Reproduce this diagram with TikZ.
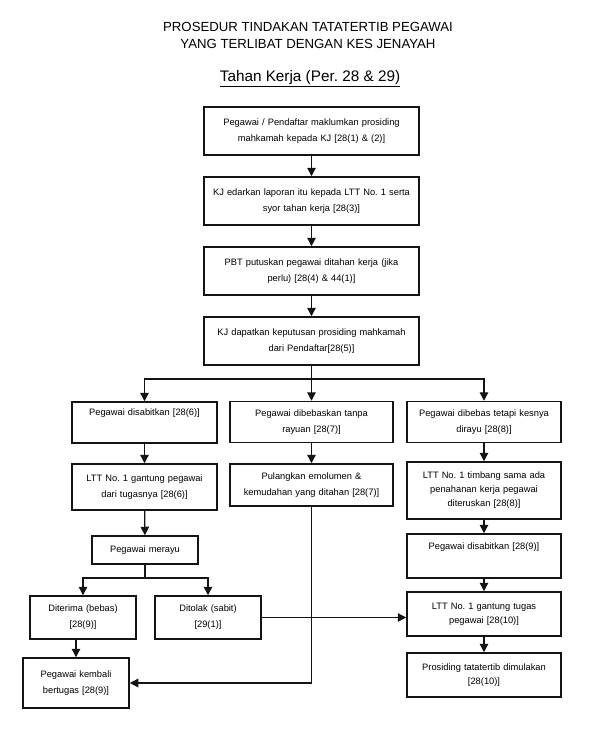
\documentclass[tikz,border=0pt]{standalone}
\usepackage{fontspec}
\setmainfont{Liberation Sans}
\usetikzlibrary{arrows.meta}
\definecolor{line-dark}{HTML}{141414}

\begin{document}
\begin{tikzpicture}[x=1pt, y=-1pt,
    every node/.style={font=\fontsize{9.3}{15.5}\selectfont},
    box/.style={draw=line-dark, line width=1.5pt, align=center, inner sep=0pt},
    mainbox/.style={box, minimum width=215pt, text width=210pt, minimum height=48pt},
    leftbox/.style={box, minimum width=145pt, text width=140pt},
    midbox/.style={box, minimum width=163pt, text width=158pt},
    rightbox/.style={box, minimum width=154pt, text width=149pt},
    smallbox/.style={box, minimum width=106pt, text width=102pt},
    flow/.style={-{Triangle[length=8.5pt, width=8.5pt]}, line width=1.3pt, color=line-dark}]
    \useasboundingbox (0, 0) rectangle (597, 729);
    % title
    \node[font=\fontsize{13.2}{17}\selectfont, align=center] (title) at (308, 35)
      {PROSEDUR TINDAKAN TATATERTIB PEGAWAI\\YANG TERLIBAT DENGAN KES JENAYAH};
    \node[font=\fontsize{15.3}{18}\selectfont] (sub) at (310, 79)
      {\underline{Tahan Kerja (Per.\ 28 \& 29)}};

    % main column
    \node[mainbox] (lapor) at (311.5, 131)
      {Pegawai / Pendaftar maklumkan prosiding\\mahkamah kepada KJ [28(1) \& (2)]};
    \node[mainbox] (edar) at (311.5, 201)
      {KJ edarkan laporan itu kepada LTT No.\ 1 serta\\syor tahan kerja [28(3)]};
    \node[mainbox] (putus) at (311.5, 271)
      {PBT putuskan pegawai ditahan kerja (jika\\perlu) [28(4) \& 44(1)]};
    \node[mainbox] (dapat) at (311.5, 341)
      {KJ dapatkan keputusan prosiding mahkamah\\dari Pendaftar[28(5)]};
    \coordinate (split) at (311.5, 379);

    % three outcomes
    \node[leftbox, minimum height=41pt] (sabit) at (144.5, 422.5)
      {Pegawai disabitkan [28(6)]\\\strut};
    \node[midbox, minimum height=41pt] (bebas) at (311.5, 422)
      {Pegawai dibebaskan tanpa\\rayuan [28(7)]};
    \node[rightbox, minimum height=41pt] (dirayu) at (484, 422)
      {Pegawai dibebas tetapi kesnya\\dirayu [28(8)]};

    \node[leftbox, minimum height=46pt] (gantung) at (144.5, 487)
      {LTT No.\ 1 gantung pegawai\\dari tugasnya [28(6)]};
    \node[midbox, minimum height=42pt] (pulang) at (311.5, 485)
      {Pulangkan emolumen \&\\kemudahan yang ditahan [28(7)]};
    \node[rightbox, minimum height=57pt, font=\fontsize{9.3}{14}\selectfont] (timbang) at (484, 490.5)
      {LTT No.\ 1 timbang sama ada\\penahanan kerja pegawai\\diteruskan [28(8)]};

    % right column
    \node[rightbox, minimum height=44pt] (disabit) at (484, 556)
      {Pegawai disabitkan [28(9)]\\\strut};
    \node[rightbox, minimum height=44pt, font=\fontsize{9.3}{14}\selectfont] (gantungtugas) at (484, 614)
      {LTT No.\ 1 gantung tugas\\pegawai [28(10)]};
    \node[rightbox, minimum height=44pt, font=\fontsize{9.3}{14}\selectfont] (prosiding) at (484, 675)
      {Prosiding tatatertib dimulakan\\{}[28(10)]};

    % appeal
    \node[smallbox, minimum height=28pt] (merayu) at (145, 550) {Pegawai merayu};
    \coordinate (split2) at (145, 578);
    \node[smallbox, minimum height=43pt, font=\fontsize{9.3}{16}\selectfont] (terima) at (83, 617.5)
      {Diterima (bebas)\\{}[28(9)]};
    \node[smallbox, minimum height=43pt, font=\fontsize{9.3}{16}\selectfont] (tolak) at (208, 617.5)
      {Ditolak (sabit)\\{}[29(1)]};
    \node[smallbox, minimum height=50pt] (kembali) at (76, 683)
      {Pegawai kembali\\bertugas [28(9)]};

    % connectors
    \draw[flow] (lapor) -- (edar);
    \draw[flow] (edar) -- (putus);
    \draw[flow] (putus) -- (dapat);
    \draw[flow] (dapat) -- (bebas);
    \draw[flow] (split) -| (sabit.north);
    \draw[flow] (split) -| (dirayu.north);
    \draw[flow] (sabit) -- (gantung);
    \draw[flow] (bebas) -- (pulang);
    \draw[flow] (gantung) -- (merayu);
    \draw[flow] (dirayu) -- (timbang);
    \draw[flow] (timbang) -- (disabit);
    \draw[flow] (disabit) -- (gantungtugas);
    \draw[flow] (gantungtugas) -- (prosiding);
    \draw[line width=1.3pt, color=line-dark] (merayu.south) -- (split2);
    \draw[flow] (split2) -| (terima.north);
    \draw[flow] (split2) -| (tolak.north);
    \draw[flow] (kembali.north |- terima.south) -- (kembali.north);
    \draw[flow] (tolak.east) -- (tolak.east -| gantungtugas.west);
    \draw[flow] (pulang.south) |- (kembali.east);
  \end{tikzpicture}
\end{document}
